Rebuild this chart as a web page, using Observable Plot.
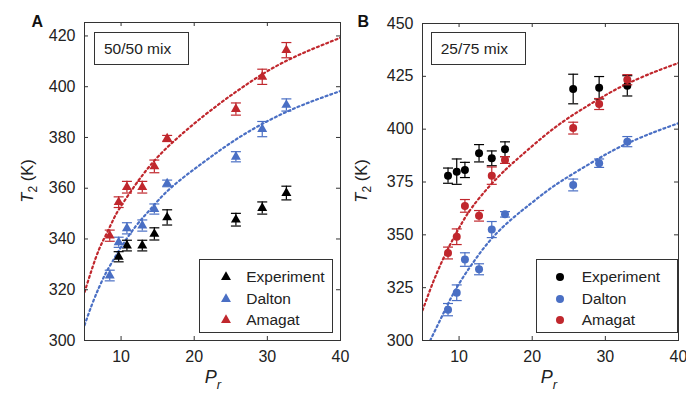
<!DOCTYPE html>
<html><head><meta charset="utf-8">
<script src="https://cdn.jsdelivr.net/npm/d3@7"></script>
<script src="https://cdn.jsdelivr.net/npm/@observablehq/plot@0.6"></script>
<style>
body{margin:0;background:#fff;font-family:"Liberation Sans",Arial,Helvetica,sans-serif;color:#222;}
#wrap{position:relative;width:686px;height:393px;overflow:hidden;background:#fff;}
.panel{position:absolute;top:0;}
.panel svg{overflow:visible;background:transparent;}
.abs{position:absolute;white-space:nowrap;line-height:1;}
.box{position:absolute;border:1px solid #333;background:#fff;box-sizing:border-box;}
.sub{font-size:12px;position:relative;top:4px;}
</style></head><body><div id="wrap"></div>
<script>
const series = ["Experiment", "Dalton", "Amagat"];
const colors = ["#000000", "#4a6fc4", "#c0272d"];

// Panel A — 50/50 mix (triangles)
const prA = [8.45, 9.67, 10.8, 12.9, 14.55, 16.3, 25.7, 29.3, 32.6];
const expA = [null, 333.0, 337.4, 337.4, 342.0, 348.5, 347.6, 352.2, 358.1];
const expAerr = [null, 2.0, 2.1, 2.1, 2.4, 3.0, 2.5, 2.4, 2.7];
const dalA = [325.6, 338.7, 344.2, 345.3, 351.8, 361.9, 372.4, 383.3, 392.8];
const dalAerr = [2.1, 2.0, 2.2, 2.2, 2.0, 1.3, 2.0, 3.0, 2.4];
const amaA = [341.3, 354.5, 360.4, 360.4, 368.6, 379.6, 391.2, 403.9, 414.4];
const amaAerr = [2.2, 2.1, 2.3, 2.3, 2.5, 1.2, 2.4, 3.0, 3.0];
const fitPrA = [5, 6, 7, 8, 9, 10, 12, 14, 16.75, 21.3, 25.86, 30.4, 35, 40];
const fitAmaA = [319, 328, 336, 342, 348, 353, 361.5, 369, 377.3, 388.5, 398.3, 406.8, 413.4, 419.3];
const fitDalA = [306, 314, 321, 327, 332, 336.8, 345, 351.7, 360, 370.3, 379.5, 387, 393, 398.3];
const yTicksA = [300, 320, 340, 360, 380, 400, 420];

// Panel B — 25/75 mix (circles)
const prB = [8.49, 9.68, 10.8, 12.73, 14.47, 16.28, 25.6, 29.15, 33.0];
const expB = [378.0, 379.9, 380.7, 388.6, 386.2, 390.5, 419.0, 419.6, 420.5];
const expBerr = [3.6, 6.0, 3.6, 4.1, 3.5, 3.5, 7.0, 5.3, 4.8];
const dalB = [314.6, 322.6, 338.3, 333.7, 352.5, 359.7, 373.6, 383.9, 394.1];
const dalBerr = [2.9, 3.7, 3.2, 2.6, 3.8, 1.3, 2.8, 2.0, 2.4];
const amaB = [341.4, 349.1, 363.7, 359.0, 378.0, 385.4, 400.5, 411.9, 423.4];
const amaBerr = [2.8, 3.7, 3.0, 2.5, 4.1, 1.6, 2.8, 2.6, 2.4];
const fitPrAmaB = [5, 6.37, 7.74, 9.1, 10.47, 11.84, 14.1, 16.4, 18.43, 23, 27.55, 32.1, 36.67, 40];
const fitAmaB = [314.2, 326.9, 338, 347.5, 356.1, 363.3, 372.8, 381, 387.3, 400.5, 411, 420, 427, 431.3];
const fitPrDalB = [6.05, 7.74, 9.56, 11.84, 14.1, 16.4, 18.6, 20.25, 23, 27.55, 32.1, 36.67, 40];
const fitDalB = [300, 312, 324.3, 336.5, 346.8, 355, 361.5, 366, 373.2, 383, 391.8, 398.6, 402.8];
const yTicksB = [300, 325, 350, 375, 400, 425, 450];

const xTicks = [10, 20, 30, 40];
const capSymbol = {draw(ctx, size) { const r = Math.sqrt(size / Math.PI); ctx.moveTo(-r, 0); ctx.lineTo(r, 0); }};

function makePanel(o) {
  const H = 393, mb = 53;
  const innerH = H - o.mt - mb, innerW = o.width - o.ml - o.mr;
  const marks = [];
  o.fits.forEach(f => {
    marks.push(Plot.line(f.x.map((x, i) => ({x, y: f.y[i]})), {
      x: "x", y: "y", stroke: f.color, strokeWidth: 2.2, strokeDasharray: "2,3", curve: "natural", clip: true
    }));
  });
  series.forEach((s, k) => {
    const rows = o.pr.map((x, i) => ({x, t: o.vals[k][i], e: o.errs[k][i]})).filter(d => d.t != null);
    marks.push(Plot.ruleX(rows, {x: "x", y1: d => d.t - d.e, y2: d => d.t + d.e, stroke: colors[k], strokeWidth: 1.2}));
    marks.push(Plot.dot(rows, {x: "x", y: d => d.t - d.e, symbol: capSymbol, r: 5, stroke: colors[k], strokeWidth: 1.2, fill: "none"}));
    marks.push(Plot.dot(rows, {x: "x", y: d => d.t + d.e, symbol: capSymbol, r: 5, stroke: colors[k], strokeWidth: 1.2, fill: "none"}));
    marks.push(Plot.dot(rows, {x: "x", y: "t", symbol: o.symbol, r: o.r, fill: colors[k], stroke: "none"}));
  });
  // inward ticks on all four sides
  marks.push(Plot.tickX(xTicks, {x: d => d, insetTop: innerH - 4, stroke: "#333"}));
  marks.push(Plot.tickX(xTicks, {x: d => d, insetBottom: innerH - 4, stroke: "#333"}));
  marks.push(Plot.tickY(o.yTicks, {y: d => d, insetRight: innerW - 4, stroke: "#333"}));
  marks.push(Plot.tickY(o.yTicks, {y: d => d, insetLeft: innerW - 4, stroke: "#333"}));
  marks.push(Plot.axisX({ticks: xTicks, tickSize: 0, tickPadding: 10, label: null, fill: "#222"}));
  marks.push(Plot.axisY({ticks: o.yTicks, tickSize: 0, tickPadding: 9, label: null, fill: "#222"}));
  marks.push(Plot.frame({stroke: "#333", strokeWidth: 1}));
  return Plot.plot({
    width: o.width, height: H,
    marginLeft: o.ml, marginRight: o.mr, marginTop: o.mt, marginBottom: mb,
    x: {domain: [5, 40]},
    y: {domain: o.yDomain},
    style: {fontFamily: '"Liberation Sans", Arial, Helvetica, sans-serif', fontSize: "16px", background: "transparent", overflow: "visible"},
    marks
  });
}

const wrap = document.getElementById("wrap");
function addDiv(html, css, cls = "abs") {
  const d = document.createElement("div");
  d.className = cls; d.innerHTML = html; Object.assign(d.style, css);
  wrap.appendChild(d); return d;
}

const panels = [
  {left: 0, width: 345, ml: 84, mr: 5, mt: 22, yDomain: [300, 425.3], yTicks: yTicksA, symbol: "triangle", r: 3.7,
   pr: prA, vals: [expA, dalA, amaA], errs: [expAerr, dalAerr, amaAerr],
   fits: [{x: fitPrA, y: fitAmaA, color: colors[2]}, {x: fitPrA, y: fitDalA, color: colors[1]}],
   letter: "A", mix: "50/50 mix", mixBox: [94, 32, 95, 33], legend: [198.7, 259, 134.6, 74.3], yl: 27, xl: 213},
  {left: 345, width: 341, ml: 77, mr: 8, mt: 23, yDomain: [300, 450], yTicks: yTicksB, symbol: "circle", r: 4,
   pr: prB, vals: [expB, dalB, amaB], errs: [expBerr, dalBerr, amaBerr],
   fits: [{x: fitPrAmaB, y: fitAmaB, color: colors[2]}, {x: fitPrDalB, y: fitDalB, color: colors[1]}],
   letter: "B", mix: "25/75 mix", mixBox: [430.7, 32, 95, 33], legend: [535.7, 259.3, 142.6, 74], yl: 361, xl: 549}
];

panels.forEach(p => {
  const holder = document.createElement("div");
  holder.className = "panel"; holder.style.left = p.left + "px";
  holder.appendChild(makePanel(p));
  wrap.appendChild(holder);
  // panel letter
  addDiv(p.letter, {left: (p.left + (p.letter === "A" ? 31.5 : 357.5 - 345)) + "px", top: "14px", fontSize: "16px", fontWeight: "bold", color: "#111"});
  // mix label box
  const mb = addDiv("", {left: p.mixBox[0] + "px", top: p.mixBox[1] + "px", width: p.mixBox[2] + "px", height: p.mixBox[3] + "px"}, "box");
  const mt = document.createElement("div");
  mt.className = "abs"; mt.textContent = p.mix;
  Object.assign(mt.style, {left: "9px", top: "8px", fontSize: "15.5px", color: "#222"});
  mb.appendChild(mt);
  // legend
  const lg = addDiv("", {left: p.legend[0] + "px", top: p.legend[1] + "px", width: p.legend[2] + "px", height: p.legend[3] + "px"}, "box");
  const symType = p.symbol === "triangle" ? d3.symbolTriangle : d3.symbolCircle;
  const path = d3.symbol(symType, Math.PI * p.r * p.r)();
  const rowY = [17, 38.5, 60];
  series.forEach((s, k) => {
    const row = document.createElement("div");
    row.className = "abs";
    Object.assign(row.style, {left: "0px", top: (rowY[k] - 9) + "px", height: "18px", width: "100%"});
    row.innerHTML = `<svg width="14" height="14" style="position:absolute;left:${p.symbol === "triangle" ? 19 : 16}px;top:2px;overflow:visible"><path transform="translate(7,7)" d="${path}" fill="${colors[k]}"/></svg>` +
      `<span style="position:absolute;left:${p.symbol === "triangle" ? 46.5 : 45}px;top:1px;font-size:15.5px;color:#222">${s}</span>`;
    lg.appendChild(row);
  });
  // y label
  addDiv(`<i>T</i><span class="sub">2</span> (K)`, {left: p.yl + "px", top: "181px", fontSize: "16.5px", transform: "translate(-50%,-50%) rotate(-90deg)", color: "#222"});
  // x label
  addDiv(`<i>P</i><span class="sub" style="top:6px;font-size:13px"><i>r</i></span>`, {left: p.xl + "px", top: "368px", fontSize: "18px", transform: "translateX(-50%)", color: "#222"});
});
</script>
</body></html>
